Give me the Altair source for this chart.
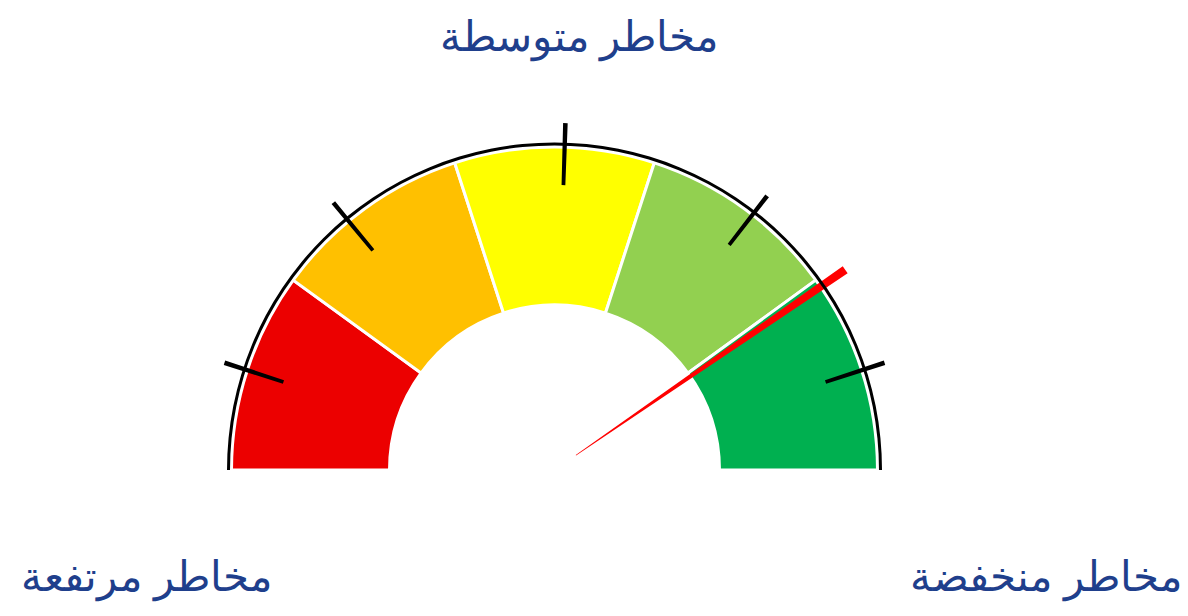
import math
import altair as alt
import pandas as pd

# ---- data ----
segment_names = ["مرتفعة", "مرتفعة نسبياً", "متوسطة", "منخفضة نسبياً", "منخفضة"]
segment_start = [0, 20, 40, 60, 80]
segment_end = [20, 40, 60, 80, 100]
segment_colors = ["#EC0000", "#FFC000", "#FFFF00", "#92D050", "#00B050"]

tick_values = [10, 28, 51, 71, 90]
needle_value = [80.8]

label_top = "مخاطر متوسطة"
label_left = "مخاطر مرتفعة"
label_right = "مخاطر منخفضة"

# ---- layout ----
W, H = 1188, 616
CX, CY = 554.5, 470
R_OUT, R_IN = 323, 165
TEXT_COLOR = "#1F3F8C"
FONT = "Liberation Serif"

theta_scale = alt.Scale(domain=[0, 100], range=[-math.pi / 2, math.pi / 2])

seg_df = pd.DataFrame({"name": segment_names, "start": segment_start, "end": segment_end})
segments = alt.Chart(seg_df).mark_arc(
    radius=R_OUT, radius2=R_IN, stroke="white", strokeWidth=3
).encode(
    x=alt.value(CX), y=alt.value(CY),
    theta=alt.Theta("start:Q", scale=theta_scale),
    theta2="end:Q",
    color=alt.Color("name:N", scale=alt.Scale(domain=segment_names, range=segment_colors), legend=None),
)

ring_df = pd.DataFrame({"start": [0], "end": [100]})
ring = alt.Chart(ring_df).mark_arc(radius=327.5, radius2=324.5, color="black").encode(
    x=alt.value(CX), y=alt.value(CY),
    theta=alt.Theta("start:Q", scale=theta_scale),
    theta2="end:Q",
)

tick_df = pd.DataFrame({"v": tick_values})
ticks = alt.Chart(tick_df).transform_calculate(
    a="datum.v - 0.21", b="datum.v + 0.21"
).mark_arc(radius=347, radius2=285, color="black").encode(
    x=alt.value(CX), y=alt.value(CY),
    theta=alt.Theta("a:Q", scale=theta_scale),
    theta2="b:Q",
)

needle_df = pd.DataFrame({"v": needle_value})
needle = alt.Chart(needle_df).transform_calculate(
    a="datum.v - 0.39", b="datum.v + 0.39"
).mark_arc(radius=353, radius2=26, color="#FF0000").encode(
    x=alt.value(CX), y=alt.value(CY),
    theta=alt.Theta("a:Q", scale=theta_scale),
    theta2="b:Q",
)

def label(txt, x, y):
    return alt.Chart(pd.DataFrame({"t": [txt]})).mark_text(
        font=FONT, fontSize=42, color=TEXT_COLOR, align="center", baseline="middle"
    ).encode(x=alt.value(x), y=alt.value(y), text="t:N")

chart = alt.layer(
    segments, needle, ring, ticks,
    label(label_top, 579.5, 38),
    label(label_left, 147, 578),
    label(label_right, 1046.5, 578),
).properties(
    width=W, height=H, autosize=alt.AutoSizeParams(type="none"), padding=0
).configure_view(strokeWidth=0)

chart.save("out.html", embed_options={"renderer": "svg", "actions": False})
